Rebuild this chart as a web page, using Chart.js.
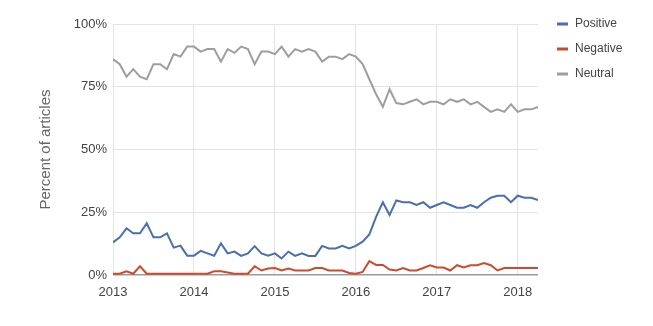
<!DOCTYPE html>
<html>
<head>
<meta charset="utf-8">
<script src="https://cdn.jsdelivr.net/npm/chart.js@4/dist/chart.umd.min.js"></script>
<style>
html,body{margin:0;padding:0;background:#fff;}
#wrap{width:653px;height:326px;position:relative;}
</style>
</head>
<body>
<div id="wrap"><canvas id="c" width="653" height="326"></canvas></div>
<script>
const startYear = 2013;
const yearTicks = [2013, 2014, 2015, 2016, 2017, 2018];
const endX = 2018.25;
const percentTicks = [0, 25, 50, 75, 100];
const seriesNames = ['Positive', 'Negative', 'Neutral'];

const positive = [13,15,18.6,16.6,16.6,20.6,15,15,16.6,10.9,11.7,7.7,
  7.7,9.6,8.6,7.7,12.6,8.6,9.3,7.6,8.6,11.5,8.6,7.7,
  8.6,6.6,9.3,7.6,8.6,7.6,7.6,11.6,10.6,10.6,11.6,10.6,
  11.6,13.3,16.2,23.2,29,23.9,29.7,29,29,27.9,29,26.8,
  27.9,29,27.9,26.8,26.8,27.9,26.8,29,30.8,31.6,31.6,29,
  31.6,30.8,30.8,29.9];
const negative = [0.5,0.5,1.5,0.5,3.5,0.5,0.5,0.5,0.5,0.5,0.5,0.5,
  0.5,0.5,0.5,1.5,1.5,1,0.5,0.5,0.5,3.5,1.8,2.6,
  2.8,1.8,2.6,1.8,1.8,1.8,2.8,2.8,1.8,1.8,1.8,0.8,
  0.5,1.2,5.5,4,4,2.2,1.8,2.8,1.8,1.8,2.8,3.9,
  3,3,1.8,3.9,3,3.9,3.9,4.8,3.9,1.8,2.8,2.8,
  2.8,2.8,2.8,2.8];
const neutral = [86,84,79,82,79,78,84,84,82,88,87,91,
  91,89,90,90,85,90,88.5,91,90,84,89,89,
  88,91,87,90,89,90,89,85,87,87,86,88,
  87,84,78,72,67,74,68.5,68,69,70,68,69,
  69,68,70,69,70,68,69,67,65,66,65,68,
  65,66,66,67];

const colors = ['#4a6db3', '#cf4a2c', '#9e9e9e'];
const FONT = "Arial, 'Liberation Sans', sans-serif";

function toPoints(arr){ return arr.map((v,i)=>({x: startYear + i/12, y: v})); }

const sideLegend = {
  id: 'sideLegend',
  afterDraw(chart){
    const ctx = chart.ctx;
    ctx.save();
    ctx.font = '12px ' + FONT;
    ctx.textBaseline = 'middle';
    ctx.textAlign = 'left';
    chart.data.datasets.forEach((ds, i) => {
      const y = 24 + i * 25;
      ctx.strokeStyle = ds.borderColor;
      ctx.lineWidth = 3;
      ctx.beginPath();
      ctx.moveTo(557, y);
      ctx.lineTo(568, y);
      ctx.stroke();
      ctx.fillStyle = '#444';
      ctx.fillText(ds.label, 575, y);
    });
    ctx.restore();
  }
};

new Chart(document.getElementById('c'), {
  type: 'line',
  data: {
    datasets: [
      {label: seriesNames[0], data: toPoints(positive), borderColor: colors[0]},
      {label: seriesNames[1], data: toPoints(negative), borderColor: colors[1]},
      {label: seriesNames[2], data: toPoints(neutral), borderColor: colors[2]}
    ].map(d => Object.assign(d, {borderWidth: 2, pointRadius: 0, tension: 0, fill: false}))
  },
  options: {
    responsive: false,
    animation: false,
    devicePixelRatio: 1,
    layout: {padding: {top: 24, right: 115, left: 0, bottom: 0}},
    plugins: {legend: {display: false}, tooltip: {enabled: false}},
    scales: {
      x: {
        type: 'linear',
        min: startYear,
        max: endX,
        afterBuildTicks(axis){ axis.ticks = yearTicks.map(v => ({value: v})); },
        afterFit(axis){ axis.height = 51; },
        border: {display: false},
        grid: {color: '#e3e3e3', drawTicks: false, lineWidth: 1},
        ticks: {
          padding: 10,
          color: '#444',
          font: {family: FONT, size: 13},
          maxRotation: 0,
          callback: v => String(v)
        }
      },
      y: {
        min: 0,
        max: 100,
        afterBuildTicks(axis){ axis.ticks = percentTicks.map(v => ({value: v})); },
        afterFit(axis){ axis.width = 113; },
        border: {display: false},
        grid: {
          drawTicks: false,
          color: ctx => ctx.tick && ctx.tick.value === 0 ? '#9a9a9a' : '#e3e3e3',
          lineWidth: ctx => ctx.tick && ctx.tick.value === 0 ? 1.5 : 1
        },
        ticks: {
          padding: 6,
          color: '#444',
          font: {family: FONT, size: 13},
          callback: v => v + '%'
        },
        title: {
          display: true,
          text: 'Percent of articles',
          color: '#666',
          font: {family: FONT, size: 15},
          padding: {top: 37, bottom: 0}
        }
      }
    }
  },
  plugins: [sideLegend]
});
</script>
</body>
</html>
